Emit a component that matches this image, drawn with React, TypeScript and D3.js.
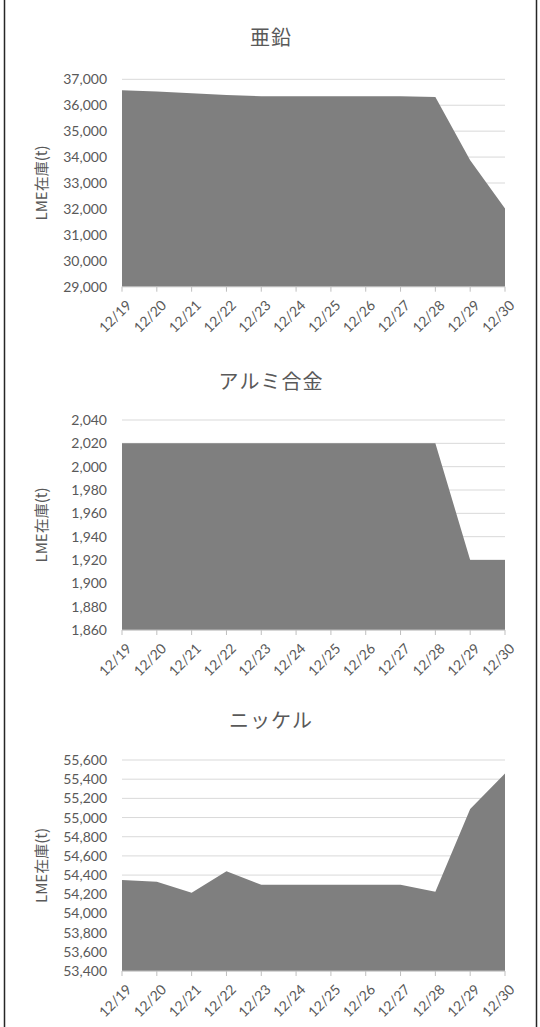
import React from "react";
import * as d3 from "d3";

const dates = ["12/19","12/20","12/21","12/22","12/23","12/24","12/25","12/26","12/27","12/28","12/29","12/30"];
const zincValues = [36580, 36530, 36460, 36390, 36350, 36350, 36350, 36350, 36350, 36320, 33880, 32020];
const aluValues = [2020, 2020, 2020, 2020, 2020, 2020, 2020, 2020, 2020, 2020, 1920, 1920];
const nickelValues = [54350, 54330, 54215, 54440, 54300, 54300, 54300, 54300, 54300, 54227, 55090, 55460];
const zincTicks = [29000, 30000, 31000, 32000, 33000, 34000, 35000, 36000, 37000];
const aluTicks = [1860, 1880, 1900, 1920, 1940, 1960, 1980, 2000, 2020, 2040];
const nickelTicks = [53400, 53600, 53800, 54000, 54200, 54400, 54600, 54800, 55000, 55200, 55400, 55600];
const titles = ["亜鉛", "アルミ合金", "ニッケル"];
const yLabel = "LME在庫(t)";

const W = 540;
const H = 1027;
const left = 122;
const right = 505;

const panels = [
  { title: titles[0], values: zincValues, ticks: zincTicks, top: 79.3, bottom: 286.7, titleY: 45 },
  { title: titles[1], values: aluValues, ticks: aluTicks, top: 420, bottom: 630, titleY: 389 },
  { title: titles[2], values: nickelValues, ticks: nickelTicks, top: 760, bottom: 971, titleY: 728 },
];

const numFont = "Lato, 'Open Sans', sans-serif";
const cjkFont = "'Noto Sans CJK JP', sans-serif";
const fmt = d3.format(",");

function Panel({ p }: { p: typeof panels[number] }) {
  const x = d3.scalePoint<string>().domain(dates).range([left, right]);
  const y = d3.scaleLinear().domain([p.ticks[0], p.ticks[p.ticks.length - 1]]).range([p.bottom, p.top]);
  const area = d3.area<number>()
    .x((_, i) => x(dates[i]) as number)
    .y0(p.bottom)
    .y1((d) => y(d));
  return (
    <g>
      <text x={271} y={p.titleY} textAnchor="middle" fontFamily={cjkFont} fontSize={20} letterSpacing={1} fill="#595959">{p.title}</text>
      {p.ticks.map((t) => (
        <g key={t}>
          <line x1={left} x2={right} y1={y(t)} y2={y(t)} stroke="#d9d9d9" strokeWidth={1} />
          <text x={107} y={y(t)} dy="0.36em" textAnchor="end" fontFamily={numFont} fontSize={14} fill="#595959">{fmt(t)}</text>
        </g>
      ))}
      <path d={area(p.values) || ""} fill="#7f7f7f" />
      <line x1={left} x2={right} y1={p.bottom} y2={p.bottom} stroke="#bfbfbf" strokeWidth={1} />
      {dates.map((d) => (
        <g key={d} transform={`translate(${x(d)},${p.bottom})`}>
          <line y1={0} y2={5} stroke="#bfbfbf" strokeWidth={1} />
          <text transform="translate(7,16) rotate(-45)" textAnchor="end" dy="0.35em" fontFamily={numFont} fontSize={14} fill="#595959">{d}</text>
        </g>
      ))}
      <text transform={`translate(42,${(p.top + p.bottom) / 2}) rotate(-90)`} textAnchor="middle" dy="0.35em" fontFamily={cjkFont} fontSize={15} fill="#595959">{yLabel}</text>
    </g>
  );
}

export default function App() {
  return (
    <svg width={W} height={H} style={{ position: "absolute", left: 0, top: 0, background: "#fff" }}>
      <rect x={0} y={0} width={W} height={H} fill="#fff" />
      <line x1={4.5} x2={4.5} y1={0} y2={H} stroke="#262626" strokeWidth={1.5} />
      <line x1={536.5} x2={536.5} y1={0} y2={H} stroke="#262626" strokeWidth={1.5} />
      {panels.map((p) => <Panel key={p.title} p={p} />)}
    </svg>
  );
}
